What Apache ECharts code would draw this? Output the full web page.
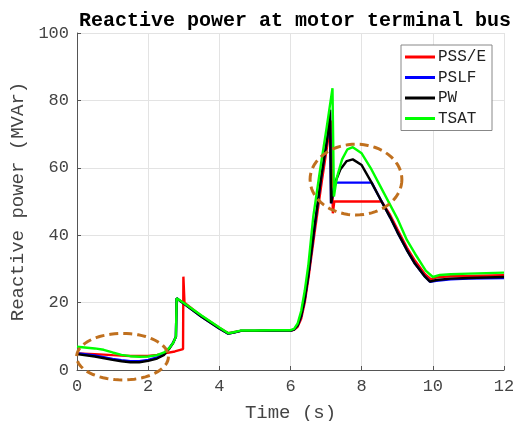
<!DOCTYPE html>
<html>
<head>
<meta charset="utf-8">
<script src="https://cdn.jsdelivr.net/npm/echarts@6/dist/echarts.min.js"></script>
<style>
  html, body { margin: 0; padding: 0; background: #fff; }
  #chart { width: 520px; height: 421px; }
</style>
</head>
<body>
<div id="chart"></div>
<script>
// time axis ticks
var xTicks = [0, 2, 4, 6, 8, 10, 12];
var yTicks = [0, 20, 40, 60, 80, 100];

// PSS/E (red)
var tPsse = [0, 0.5, 1.0, 1.5, 2.0, 2.25, 2.5, 2.75, 2.98, 2.99, 3.02, 3.5, 4.0, 4.25, 4.4, 4.6, 5.0, 5.5, 6.0, 6.1, 6.2, 6.3, 6.4, 6.5, 6.68, 6.88, 7.08, 7.15, 7.19, 7.23, 8.56, 8.8, 9.0, 9.27, 9.5, 9.78, 9.95, 10.1, 10.5, 11.0, 12.0];
var qPsse = [4.9, 4.7, 4.4, 4.15, 4.15, 4.5, 5.0, 5.5, 6.2, 27.7, 20.0, 16.0, 12.5, 10.9, 11.2, 11.6, 11.6, 11.7, 11.7, 11.9, 12.8, 15.2, 20.0, 27.0, 41.0, 56.0, 70.0, 74.0, 46.5, 50.0, 50.0, 46.0, 41.8, 36.3, 32.4, 28.4, 26.9, 27.5, 27.8, 27.9, 28.1];

// PSLF (blue)
var tPslf = [0, 0.5, 1.0, 1.25, 1.5, 1.75, 2.0, 2.25, 2.45, 2.6, 2.7, 2.78, 2.8, 3.0, 3.5, 4.0, 4.25, 4.4, 4.6, 5.0, 5.5, 6.0, 6.1, 6.2, 6.3, 6.4, 6.5, 6.67, 6.86, 7.05, 7.11, 7.14, 7.22, 7.28, 8.28, 8.56, 8.8, 9.0, 9.27, 9.5, 9.78, 9.92, 10.1, 10.5, 11.0, 12.0];
var qPslf = [5.0, 4.3, 3.3, 2.9, 2.6, 2.6, 3.0, 3.7, 4.8, 6.6, 8.1, 9.9, 21.3, 19.7, 15.8, 12.3, 10.8, 11.1, 11.6, 11.6, 11.7, 11.7, 12.0, 13.2, 16.0, 21.0, 28.0, 42.0, 57.0, 70.0, 77.2, 49.5, 54.0, 55.6, 55.6, 50.0, 45.3, 41.0, 35.6, 31.5, 27.7, 26.2, 26.5, 26.9, 27.1, 27.3];

// PW (black)
var tPw = [0, 0.5, 1.0, 1.25, 1.5, 1.75, 2.0, 2.25, 2.45, 2.6, 2.7, 2.78, 2.8, 3.0, 3.5, 4.0, 4.25, 4.4, 4.6, 5.0, 5.5, 6.0, 6.1, 6.2, 6.3, 6.4, 6.5, 6.67, 6.86, 7.05, 7.11, 7.14, 7.25, 7.4, 7.58, 7.75, 8.0, 8.28, 8.56, 8.8, 9.0, 9.27, 9.5, 9.78, 9.92, 10.1, 10.5, 11.0, 12.0];
var qPw = [4.7, 4.0, 3.0, 2.6, 2.3, 2.3, 2.7, 3.4, 4.5, 6.4, 8.0, 9.9, 21.3, 19.7, 15.8, 12.3, 10.8, 11.1, 11.6, 11.6, 11.7, 11.7, 12.0, 13.2, 16.0, 21.0, 28.0, 42.0, 57.0, 70.0, 77.2, 49.5, 55.5, 59.5, 62.0, 62.5, 60.8, 55.6, 50.0, 45.3, 41.0, 35.6, 31.5, 27.7, 26.2, 26.7, 27.1, 27.3, 27.6];

// TSAT (green)
var tTsat = [0, 0.5, 0.75, 1.0, 1.25, 1.5, 1.75, 2.0, 2.25, 2.45, 2.6, 2.7, 2.78, 2.8, 3.0, 3.5, 4.0, 4.25, 4.4, 4.6, 5.0, 5.5, 6.0, 6.1, 6.2, 6.3, 6.4, 6.5, 6.64, 6.83, 7.02, 7.18, 7.22, 7.3, 7.45, 7.6, 7.75, 8.0, 8.25, 8.5, 8.8, 9.0, 9.27, 9.5, 9.8, 10.0, 10.2, 10.5, 11.0, 12.0];
var qTsat = [6.9, 6.4, 6.0, 5.2, 4.5, 4.1, 3.95, 4.0, 4.4, 5.2, 6.6, 8.0, 9.9, 21.3, 19.9, 16.2, 12.6, 10.9, 11.2, 11.7, 11.7, 11.8, 11.8, 12.2, 13.8, 17.5, 23.5, 31.0, 45.5, 59.3, 72.2, 83.6, 51.5, 57.0, 62.5, 65.5, 66.1, 64.3, 60.0, 55.0, 49.0, 45.0, 38.6, 34.5, 29.5, 27.6, 28.2, 28.4, 28.6, 28.9];

// highlight ellipses: [centre t, centre q, half-width (s), half-height (MVAr)]
var ellipses = [
  [1.28, 3.95, 1.29, 6.9],
  [7.84, 56.5, 1.29, 10.5]
];

var names = ['PSS/E', 'PSLF', 'PW', 'TSAT'];
var colors = ['#ff0000', '#0000ff', '#000000', '#00ff00'];
var times = [tPsse, tPslf, tPw, tTsat];
var values = [qPsse, qPslf, qPw, qTsat];

var mono = 'Liberation Mono';

var lineSeries = names.map((name, i) => ({
  name: name,
  type: 'line',
  showSymbol: false,
  symbol: 'none',
  smooth: false,
  z: 2 + i,
  lineStyle: { color: colors[i], width: 2.4 },
  itemStyle: { color: colors[i] },
  data: times[i].map((t, k) => [t, values[i][k]])
}));

var ellipseSeries = {
  type: 'custom',
  z: 10,
  silent: true,
  clip: false,
  data: ellipses,
  renderItem: function (params, api) {
    var c = api.coord([api.value(0), api.value(1)]);
    var s = api.size([api.value(2), api.value(3)]);
    var pts = [];
    for (var a = 0; a < 72; a++) {
      var ang = a / 72 * Math.PI * 2;
      pts.push([c[0] + s[0] * Math.cos(ang), c[1] + s[1] * Math.sin(ang)]);
    }
    return {
      type: 'polygon',
      shape: { points: pts },
      style: { fill: null, stroke: '#c0701e', lineWidth: 3, lineDash: [9, 5] }
    };
  }
};

var chart = echarts.init(document.getElementById('chart'));
chart.setOption({
  animation: false,
  backgroundColor: '#fff',
  title: {
    text: 'Reactive power at motor terminal bus',
    left: 290,
    textAlign: 'center',
    top: 6,
    textStyle: { fontFamily: mono, fontWeight: 'bold', fontSize: 20, color: '#000' }
  },
  legend: {
    orient: 'vertical',
    left: 401,
    top: 45,
    padding: [4, 6, 4, 4],
    itemGap: 4.5,
    itemWidth: 30,
    itemHeight: 3,
    icon: 'rect',
    borderColor: '#888',
    borderWidth: 1,
    backgroundColor: '#fff',
    textStyle: { fontFamily: mono, fontSize: 16, color: '#222', lineHeight: 16, padding: [0, 0, 0, -2] },
    data: names
  },
  grid: { left: 77, right: 16, top: 33, bottom: 51, outerBoundsMode: 'none', containLabel: false },
  xAxis: {
    type: 'value',
    min: 0,
    max: 12,
    interval: 2,
    name: 'Time (s)',
    nameLocation: 'middle',
    nameGap: 33,
    nameTextStyle: { fontFamily: mono, fontSize: 19, color: '#444' },
    axisLine: { show: true, lineStyle: { color: '#555', width: 1 } },
    axisTick: { show: true, inside: true, length: 4, lineStyle: { color: '#555' } },
    axisLabel: { fontFamily: mono, fontSize: 17, color: '#444', margin: 8 },
    splitLine: { show: true, lineStyle: { color: '#e3e3e3', width: 1 } }
  },
  yAxis: {
    type: 'value',
    min: 0,
    max: 100,
    interval: 20,
    name: 'Reactive power (MVAr)',
    nameLocation: 'middle',
    nameGap: 47,
    nameTextStyle: { fontFamily: mono, fontSize: 19, color: '#444' },
    axisLine: { show: true, lineStyle: { color: '#555', width: 1 } },
    axisTick: { show: true, inside: true, length: 4, lineStyle: { color: '#555' } },
    axisLabel: { fontFamily: mono, fontSize: 17, color: '#444', margin: 8 },
    splitLine: { show: true, lineStyle: { color: '#e3e3e3', width: 1 } }
  },
  series: lineSeries.concat([ellipseSeries])
});
</script>
</body>
</html>
